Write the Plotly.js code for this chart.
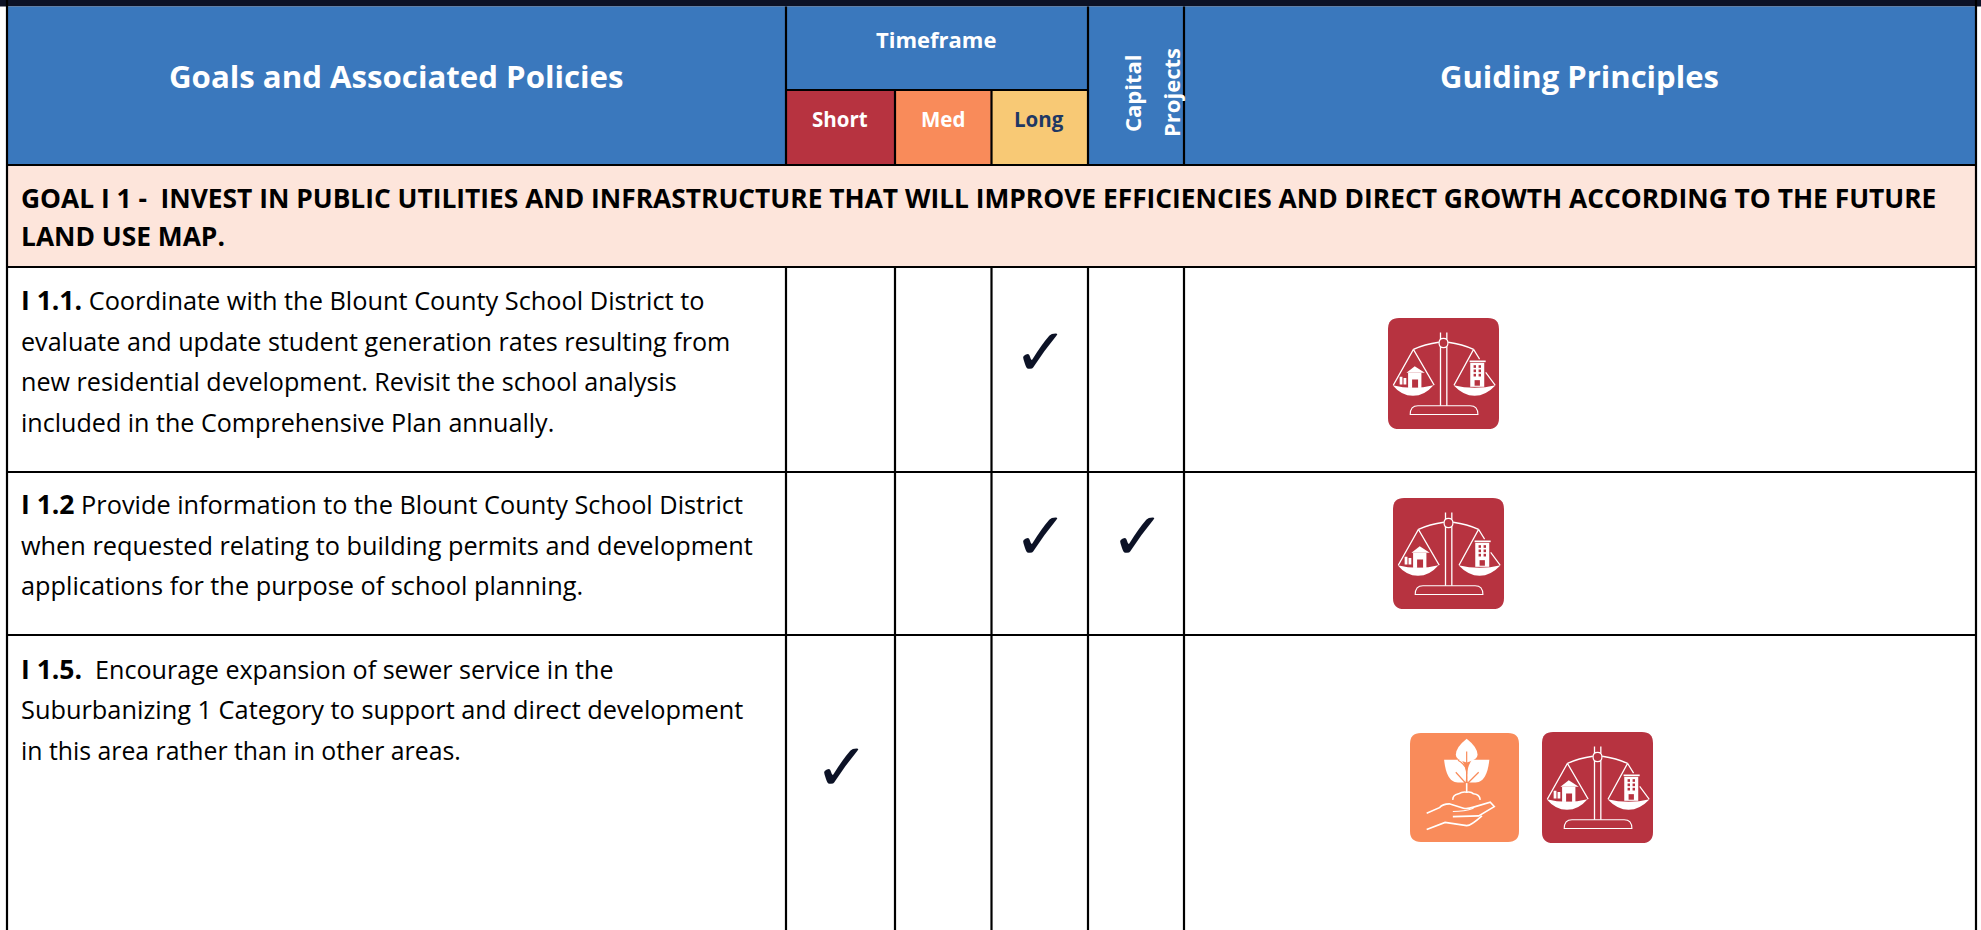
<!DOCTYPE html>
<html><head><meta charset="utf-8">
<script src="https://cdn.plot.ly/plotly-3.0.1.min.js"></script>
<style>html,body{margin:0;padding:0;background:#fff;overflow:hidden}</style>
</head><body><div id="chart" style="width:1981px;height:930px"></div>
<script>
// ---- content ----
const mainHeaders = ["Goals and Associated Policies", "Guiding Principles"];
const timeframeTitle = "Timeframe";
const timeframeLabels = ["Short", "Med", "Long"];
const capitalLabel = ["Capital", "Projects"];
const goalLines = ["GOAL I 1 -  INVEST IN PUBLIC UTILITIES AND INFRASTRUCTURE THAT WILL IMPROVE EFFICIENCIES AND DIRECT GROWTH ACCORDING TO THE FUTURE", "LAND USE MAP."];
const policyLabels = ["I 1.1.", "I 1.2", "I 1.5."];
const policyLines = [
  ["Coordinate with the Blount County School District to", "evaluate and update student generation rates resulting from", "new residential development. Revisit the school analysis", "included in the Comprehensive Plan annually."],
  ["Provide information to the Blount County School District", "when requested relating to building permits and development", "applications for the purpose of school planning."],
  [" Encourage expansion of sewer service in the", "Suburbanizing 1 Category to support and direct development", "in this area rather than in other areas."]
];
// which of Short / Med / Long / Capital is ticked per policy
const checkColumns = [[2], [2, 3], [0]];
// guiding-principle icons per policy
const principleIcons = [["balance"], ["balance"], ["growth", "balance"]];

// ---- layout constants (px) ----
const W = 1981, H = 930;
const colEdges = [7, 786, 895, 991.5, 1088, 1184, 1976];
const rowEdges = [6.5, 90, 165, 267, 472, 635, 930];
const lineW = 2.2;
const C = {dark:"#0c1226", blue:"#3a78bd", red:"#b73340", orange:"#f98b5a", yellow:"#f8c975", peach:"#fde5db", navy:"#1f3864"};
const FONT = "'Open Sans', 'Noto Sans', sans-serif";
const iconSpots = [[[1388, 318, 111]], [[1393, 498, 111]], [[1410, 733, 109], [1542, 732, 111]]];
const checkYs = [358.5, 542.5, 773.5];
const policyFirstY = [300, 504, 668.5];
const lineGap = 40.6;
const policySizes = [[25.35, 25.13, 25.15, 25.1], [25.3, 25.3, 25.3], [25.1, 25.35, 24.8]];

const shapes = [], annotations = [];
const rect = (x0,y0,x1,y1,fill) => shapes.push({type:"rect",xref:"x",yref:"y",x0,y0,x1,y1,fillcolor:fill,line:{width:0},layer:"below"});
const seg = (x0,y0,x1,y1) => shapes.push({type:"line",xref:"x",yref:"y",x0,y0,x1,y1,line:{color:"#000",width:lineW},layer:"below"});
const txt = (x,y,text,size,color,opts={}) => annotations.push(Object.assign({x,y,xref:"x",yref:"y",text,showarrow:false,
  font:{family:FONT,size,color},xanchor:"center",yanchor:"middle",borderpad:0},opts));

// fills
rect(0,0,W,rowEdges[0],C.dark);
rect(colEdges[0],rowEdges[0],colEdges[6],rowEdges[2],C.blue);
rect(colEdges[1],rowEdges[1],colEdges[2],rowEdges[2],C.red);
rect(colEdges[2],rowEdges[1],colEdges[3],rowEdges[2],C.orange);
rect(colEdges[3],rowEdges[1],colEdges[4],rowEdges[2],C.yellow);
rect(colEdges[0],rowEdges[2],colEdges[6],rowEdges[3],C.peach);

// grid
seg(colEdges[0],0,colEdges[0],H);
seg(colEdges[6],0,colEdges[6],H);
[1,4,5].forEach(i=>seg(colEdges[i],rowEdges[0],colEdges[i],rowEdges[2]));
[2,3].forEach(i=>seg(colEdges[i],rowEdges[1],colEdges[i],rowEdges[2]));
[1,2,3,4,5].forEach(i=>seg(colEdges[i],rowEdges[3],colEdges[i],H));
seg(colEdges[1],rowEdges[1],colEdges[4],rowEdges[1]);
[2,3,4,5].forEach(i=>seg(colEdges[0],rowEdges[i],colEdges[6],rowEdges[i]));

// header text
txt(396,76,"<b>"+mainHeaders[0]+"</b>",31.2,"#fff");
txt(1579,76,"<b>"+mainHeaders[1]+"</b>",31,"#fff");
txt(935.5,39,"<b>"+timeframeTitle+"</b>",22,"#fff");
[840,943,1039].forEach((x,i)=>txt(x,119,"<b>"+timeframeLabels[i]+"</b>",20.5,i===2?C.navy:"#fff"));
txt(1132,93,"<b>"+capitalLabel[0]+"</b>",22,"#fff",{textangle:-90});
txt(1171,93,"<b>"+capitalLabel[1]+"</b>",22,"#fff",{textangle:-90});

// goal
goalLines.forEach((l,i)=>txt(19.5,198+i*38,"<b>"+l+"</b>",26.35,"#000",{xanchor:"left",align:"left"}));

// policies
policyLines.forEach((lines,p)=>lines.forEach((l,i)=>{
  const text = (i===0 ? "<b><span style=\"font-size:26.5px\">"+policyLabels[p]+"</span></b> " : "") + l.replace(/^ /,"&nbsp;");
  txt(20,policyFirstY[p]+i*lineGap,text,policySizes[p][i],"#000",{xanchor:"left",align:"left"});
}));

// icons: outlines on a 0–100 square, mapped on to the axes
function place(path,[x,y,s]){
  return path.replace(/(-?[\d.]+),(-?[\d.]+)/g,(m,a,b)=>(x+a*s/100).toFixed(2)+","+(y+b*s/100).toFixed(2));
}
const fillP=(spot,p,color)=>shapes.push({type:"path",xref:"x",yref:"y",path:place(p,spot),fillcolor:color,line:{width:0},layer:"below"});
const lineP=(spot,p,color,w)=>shapes.push({type:"path",xref:"x",yref:"y",path:place(p,spot),line:{color,width:w},layer:"below"});
const ROUND="M10,0 L90,0 Q100,0 100,10 L100,90 Q100,100 90,100 L10,100 Q0,100 0,90 L0,10 Q0,0 10,0 Z";
function balanceIcon(s){
  const bg=C.red, fg="#fff", k=s[2]/111;
  fillP(s,ROUND,bg);
  lineP(s,"M47.3,13 L47.3,19 M53,13 L53,19 M47.3,26 L47.3,79 M53,26 L53,79",fg,1.3*k);
  lineP(s,"M46,22.5 Q46,18.3 50,18.3 Q54,18.3 54,22.5 Q54,26.7 50,26.7 Q46,26.7 46,22.5 Z",fg,1.2*k);
  lineP(s,"M22.9,28.3 Q33,23.5 45.8,21.8 M54.2,21.8 Q67,23.5 77.1,28.3",fg,1.4*k);
  lineP(s,"M22.9,28.3 L4.8,60.5 M22.9,28.3 L41.6,60.5 M77.1,28.3 L59.5,60.5 M77.1,28.3 L82.5,37 M88,49 L96.5,60.5",fg,1.2*k);
  fillP(s,"M4.2,60.5 Q22.5,65 41,60.5 Q33,70 22.5,70 Q12,70 4.2,60.5 Z",fg);
  fillP(s,"M59,60.5 Q78,65 97,60.5 Q88,70 78,70 Q68,70 59,60.5 Z",fg);
  lineP(s,"M20,87 Q20,79 27,79 L74,79 Q81,79 81,87 Z",fg,1.1*k);
  // house
  fillP(s,"M18.1,49.4 L30.1,49.4 L30.1,63 L18.1,63 Z",fg);
  fillP(s,"M16.6,49.4 L24.1,43.4 L33.1,49.4 Z",fg);
  fillP(s,"M21.7,55.4 L27.1,55.4 L27.1,62.7 L21.7,62.7 Z",bg);
  fillP(s,"M10.5,53 L13,53 L13,60 L10.5,60 Z M14,54 L16.5,54 L16.5,60 L14,60 Z",fg);
  // tower
  fillP(s,"M73.5,38.3 L88,38.3 L88,39.8 L73.5,39.8 Z",fg);
  fillP(s,"M74.1,40.4 L86.7,40.4 L86.7,62 L74.1,62 Z",fg);
  [42.5,46.4,50.3].forEach(v=>[77.1,81.6].forEach(u=>fillP(s,`M${u},${v} L${u+2.2},${v} L${u+2.2},${v+2.4} L${u},${v+2.4} Z`,bg)));
  fillP(s,"M78,56 L82.8,56 L82.8,61 L78,61 Z",bg);
}
function growthIcon(s){
  const bg=C.orange, fg="#fff", k=s[2]/109;
  fillP(s,ROUND,bg);
  fillP(s,"M52,5.2 Q62,13 62,20 Q62,25 52,27 Q42,25 42,20 Q42,13 52,5.2 Z",fg);
  fillP(s,"M31.3,24.5 L47,24.5 Q53,32 51,45 Q47,46 41,45 Q33,42 31.3,24.5 Z",fg);
  fillP(s,"M72.8,24.5 L57,24.5 Q51,32 53,45 Q57,46 63,45 Q71,42 72.8,24.5 Z",fg);
  lineP(s,"M52,17 L52,42 M42,36 L52,47 M63,36 L52,47 M44,25 Q53,30 52,38",bg,1.2*k);
  lineP(s,"M52,46 L52,54.3",fg,1.6*k);
  lineP(s,"M39.3,61.3 Q39,57 44.5,55.8 Q48,53.5 52,54.3 Q56,53.5 58.3,55.8 Q64,56.5 64.4,61.3",fg,1.6*k);
  lineP(s,"M15.3,73.6 L27,68.5 Q30,65 36,65 L49.1,69 Q52,70 58.3,68 L73.6,63.5 L77.3,67.5 L63,76 L39.3,76.7",fg,1.6*k);
  lineP(s,"M15.3,88.6 L32.2,82 L52,85 Q56,85 66,76",fg,1.6*k);
  lineP(s,"M39.3,72 Q50,72 58.3,69",fg,1.2*k);
}
principleIcons.forEach((row,r)=>row.forEach((name,i)=>(name==="balance"?balanceIcon:growthIcon)(iconSpots[r][i])));

// check marks are drawn from the check table
const tickCols = [842, 944, 1041, 1138];
const checkX=[], checkY=[], checkT=[];
checkColumns.forEach((cols,r)=>cols.forEach(c=>{checkX.push(tickCols[c]);checkY.push(checkYs[r]);checkT.push("\u2713");}));

const data=[{type:"scatter",mode:"text",x:checkX,y:checkY,text:checkT,textposition:"middle center",
  textfont:{family:"'DejaVu Sans'",size:66,color:C.dark,weight:"bold"},hoverinfo:"skip",showlegend:false}];
const layout={width:W,height:H,margin:{l:0,r:0,t:0,b:0},paper_bgcolor:"#fff",plot_bgcolor:"#fff",showlegend:false,
  xaxis:{range:[0,W],visible:false,fixedrange:true},
  yaxis:{range:[H,0],visible:false,fixedrange:true},shapes,annotations};
Plotly.newPlot("chart",data,layout,{displayModeBar:false,staticPlot:true});
</script></body></html>
